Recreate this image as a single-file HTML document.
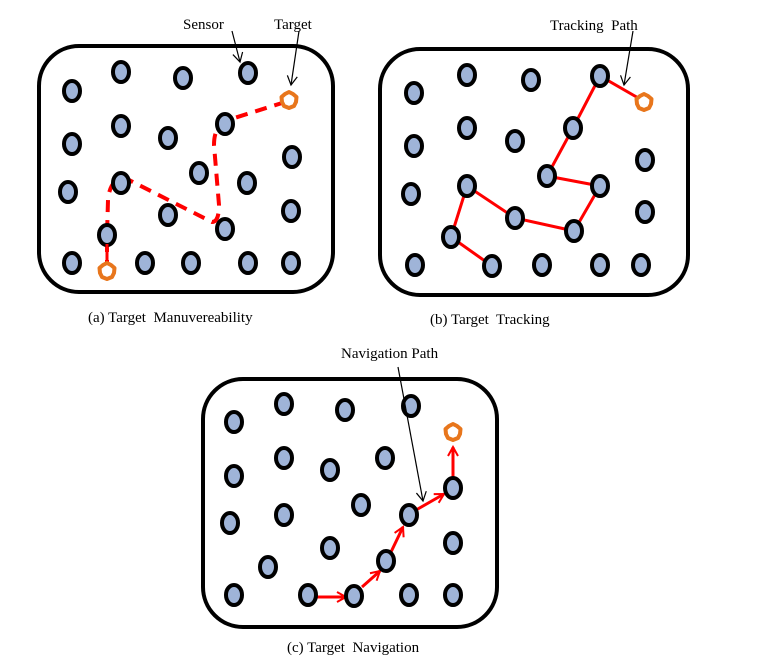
<!DOCTYPE html>
<html><head><meta charset="utf-8"><style>
html,body{margin:0;padding:0;background:#fff;width:776px;height:660px;overflow:hidden}
text{font-family:"Liberation Serif",serif;font-size:15px;fill:#000}
</style></head><body>
<svg width="776" height="660" viewBox="0 0 776 660" xmlns="http://www.w3.org/2000/svg">
<defs>
<g id="n"><ellipse cx="0" cy="0" rx="8" ry="10" fill="#9fb4d8" stroke="#000" stroke-width="4"/></g>
<g id="s"><polygon points="0,-8 4,-6 7.5,-3 7,2 5,6 0,8 -5,6 -7,2 -7.5,-3 -4,-6" fill="#fff" stroke="#e8761c" stroke-width="4" stroke-linejoin="round"/></g>
<marker id="ah" markerWidth="12" markerHeight="12" refX="10" refY="6" orient="auto" markerUnits="userSpaceOnUse"><path d="M1,1 L10,6 L1,11" fill="none" stroke="#f00" stroke-width="2"/></marker>
<marker id="bh" markerWidth="12" markerHeight="12" refX="10" refY="6" orient="auto" markerUnits="userSpaceOnUse"><path d="M1,1 L10,6 L1,11" fill="none" stroke="#000" stroke-width="1.2"/></marker>
</defs>

<!-- Panel a -->
<rect x="39" y="46" width="294" height="246" rx="40" fill="none" stroke="#000" stroke-width="4"/>
<path d="M107,272 L107,235 L108,200 Q110,178 125,178 L212,222 Q219,222 219,205 L214,145 Q214,125 228,120 L282,103" fill="none" stroke="#f00" stroke-width="4" stroke-dasharray="12,8"/>
<g>
<use href="#n" x="72" y="91"/><use href="#n" x="121" y="72"/><use href="#n" x="183" y="78"/><use href="#n" x="248" y="73"/>
<use href="#n" x="72" y="144"/><use href="#n" x="121" y="126"/><use href="#n" x="168" y="138"/><use href="#n" x="225" y="124"/><use href="#n" x="292" y="157"/>
<use href="#n" x="68" y="192"/><use href="#n" x="121" y="183"/><use href="#n" x="199" y="173"/><use href="#n" x="247" y="183"/>
<use href="#n" x="168" y="215"/><use href="#n" x="225" y="229"/><use href="#n" x="107" y="235"/><use href="#n" x="291" y="211"/>
<use href="#n" x="72" y="263"/><use href="#n" x="145" y="263"/><use href="#n" x="191" y="263"/><use href="#n" x="248" y="263"/><use href="#n" x="291" y="263"/>
</g>
<path d="M107,244 L107,262" stroke="#f00" stroke-width="3"/>
<use href="#s" x="289" y="100"/><use href="#s" x="107" y="271"/>
<text x="183" y="29">Sensor</text><text x="274" y="29">Target</text>
<line x1="232" y1="31" x2="240" y2="62" stroke="#000" stroke-width="1.2" marker-end="url(#bh)"/>
<line x1="299" y1="31" x2="291" y2="85" stroke="#000" stroke-width="1.2" marker-end="url(#bh)"/>
<text x="88" y="322">(a) Target&#160; Manuvereability</text>

<!-- Panel b -->
<rect x="380" y="49" width="308" height="246" rx="40" fill="none" stroke="#000" stroke-width="4"/>
<polyline points="492,266 451,237 467,186 515,218 574,231 600,186 547,176 573,128 600,76 640,99" fill="none" stroke="#f00" stroke-width="3"/>
<g>
<use href="#n" x="414" y="93"/><use href="#n" x="467" y="75"/><use href="#n" x="531" y="80"/><use href="#n" x="600" y="76"/>
<use href="#n" x="414" y="146"/><use href="#n" x="467" y="128"/><use href="#n" x="515" y="141"/><use href="#n" x="573" y="128"/><use href="#n" x="645" y="160"/>
<use href="#n" x="411" y="194"/><use href="#n" x="467" y="186"/><use href="#n" x="547" y="176"/><use href="#n" x="600" y="186"/>
<use href="#n" x="645" y="212"/><use href="#n" x="515" y="218"/><use href="#n" x="574" y="231"/><use href="#n" x="451" y="237"/>
<use href="#n" x="415" y="265"/><use href="#n" x="492" y="266"/><use href="#n" x="542" y="265"/><use href="#n" x="600" y="265"/><use href="#n" x="641" y="265"/>
</g>
<use href="#s" x="644" y="102"/>
<text x="550" y="30">Tracking&#160; Path</text>
<line x1="633" y1="31" x2="624" y2="85" stroke="#000" stroke-width="1.2" marker-end="url(#bh)"/>
<text x="430" y="324">(b) Target&#160; Tracking</text>

<!-- Panel c -->
<rect x="203" y="379" width="294" height="248" rx="40" fill="none" stroke="#000" stroke-width="4"/>
<g stroke="#f00" stroke-width="3" marker-end="url(#ah)">
<line x1="315" y1="597" x2="346" y2="597"/>
<line x1="362" y1="587" x2="380" y2="571"/>
<line x1="391" y1="552" x2="403" y2="527"/>
<line x1="416" y1="510" x2="444" y2="494"/>
<line x1="453" y1="478" x2="453" y2="447"/>
</g>
<g>
<use href="#n" x="234" y="422"/><use href="#n" x="284" y="404"/><use href="#n" x="345" y="410"/><use href="#n" x="411" y="406"/>
<use href="#n" x="234" y="476"/><use href="#n" x="284" y="458"/><use href="#n" x="330" y="470"/><use href="#n" x="385" y="458"/><use href="#n" x="453" y="488"/>
<use href="#n" x="230" y="523"/><use href="#n" x="284" y="515"/><use href="#n" x="361" y="505"/><use href="#n" x="409" y="515"/>
<use href="#n" x="453" y="543"/><use href="#n" x="330" y="548"/><use href="#n" x="268" y="567"/><use href="#n" x="386" y="561"/>
<use href="#n" x="234" y="595"/><use href="#n" x="308" y="595"/><use href="#n" x="354" y="596"/><use href="#n" x="409" y="595"/><use href="#n" x="453" y="595"/>
</g>
<use href="#s" x="453" y="432"/>
<text x="341" y="358">Navigation Path</text>
<line x1="398" y1="367" x2="423" y2="501" stroke="#000" stroke-width="1.2" marker-end="url(#bh)"/>
<text x="287" y="652">(c) Target&#160; Navigation</text>
</svg>
</body></html>
